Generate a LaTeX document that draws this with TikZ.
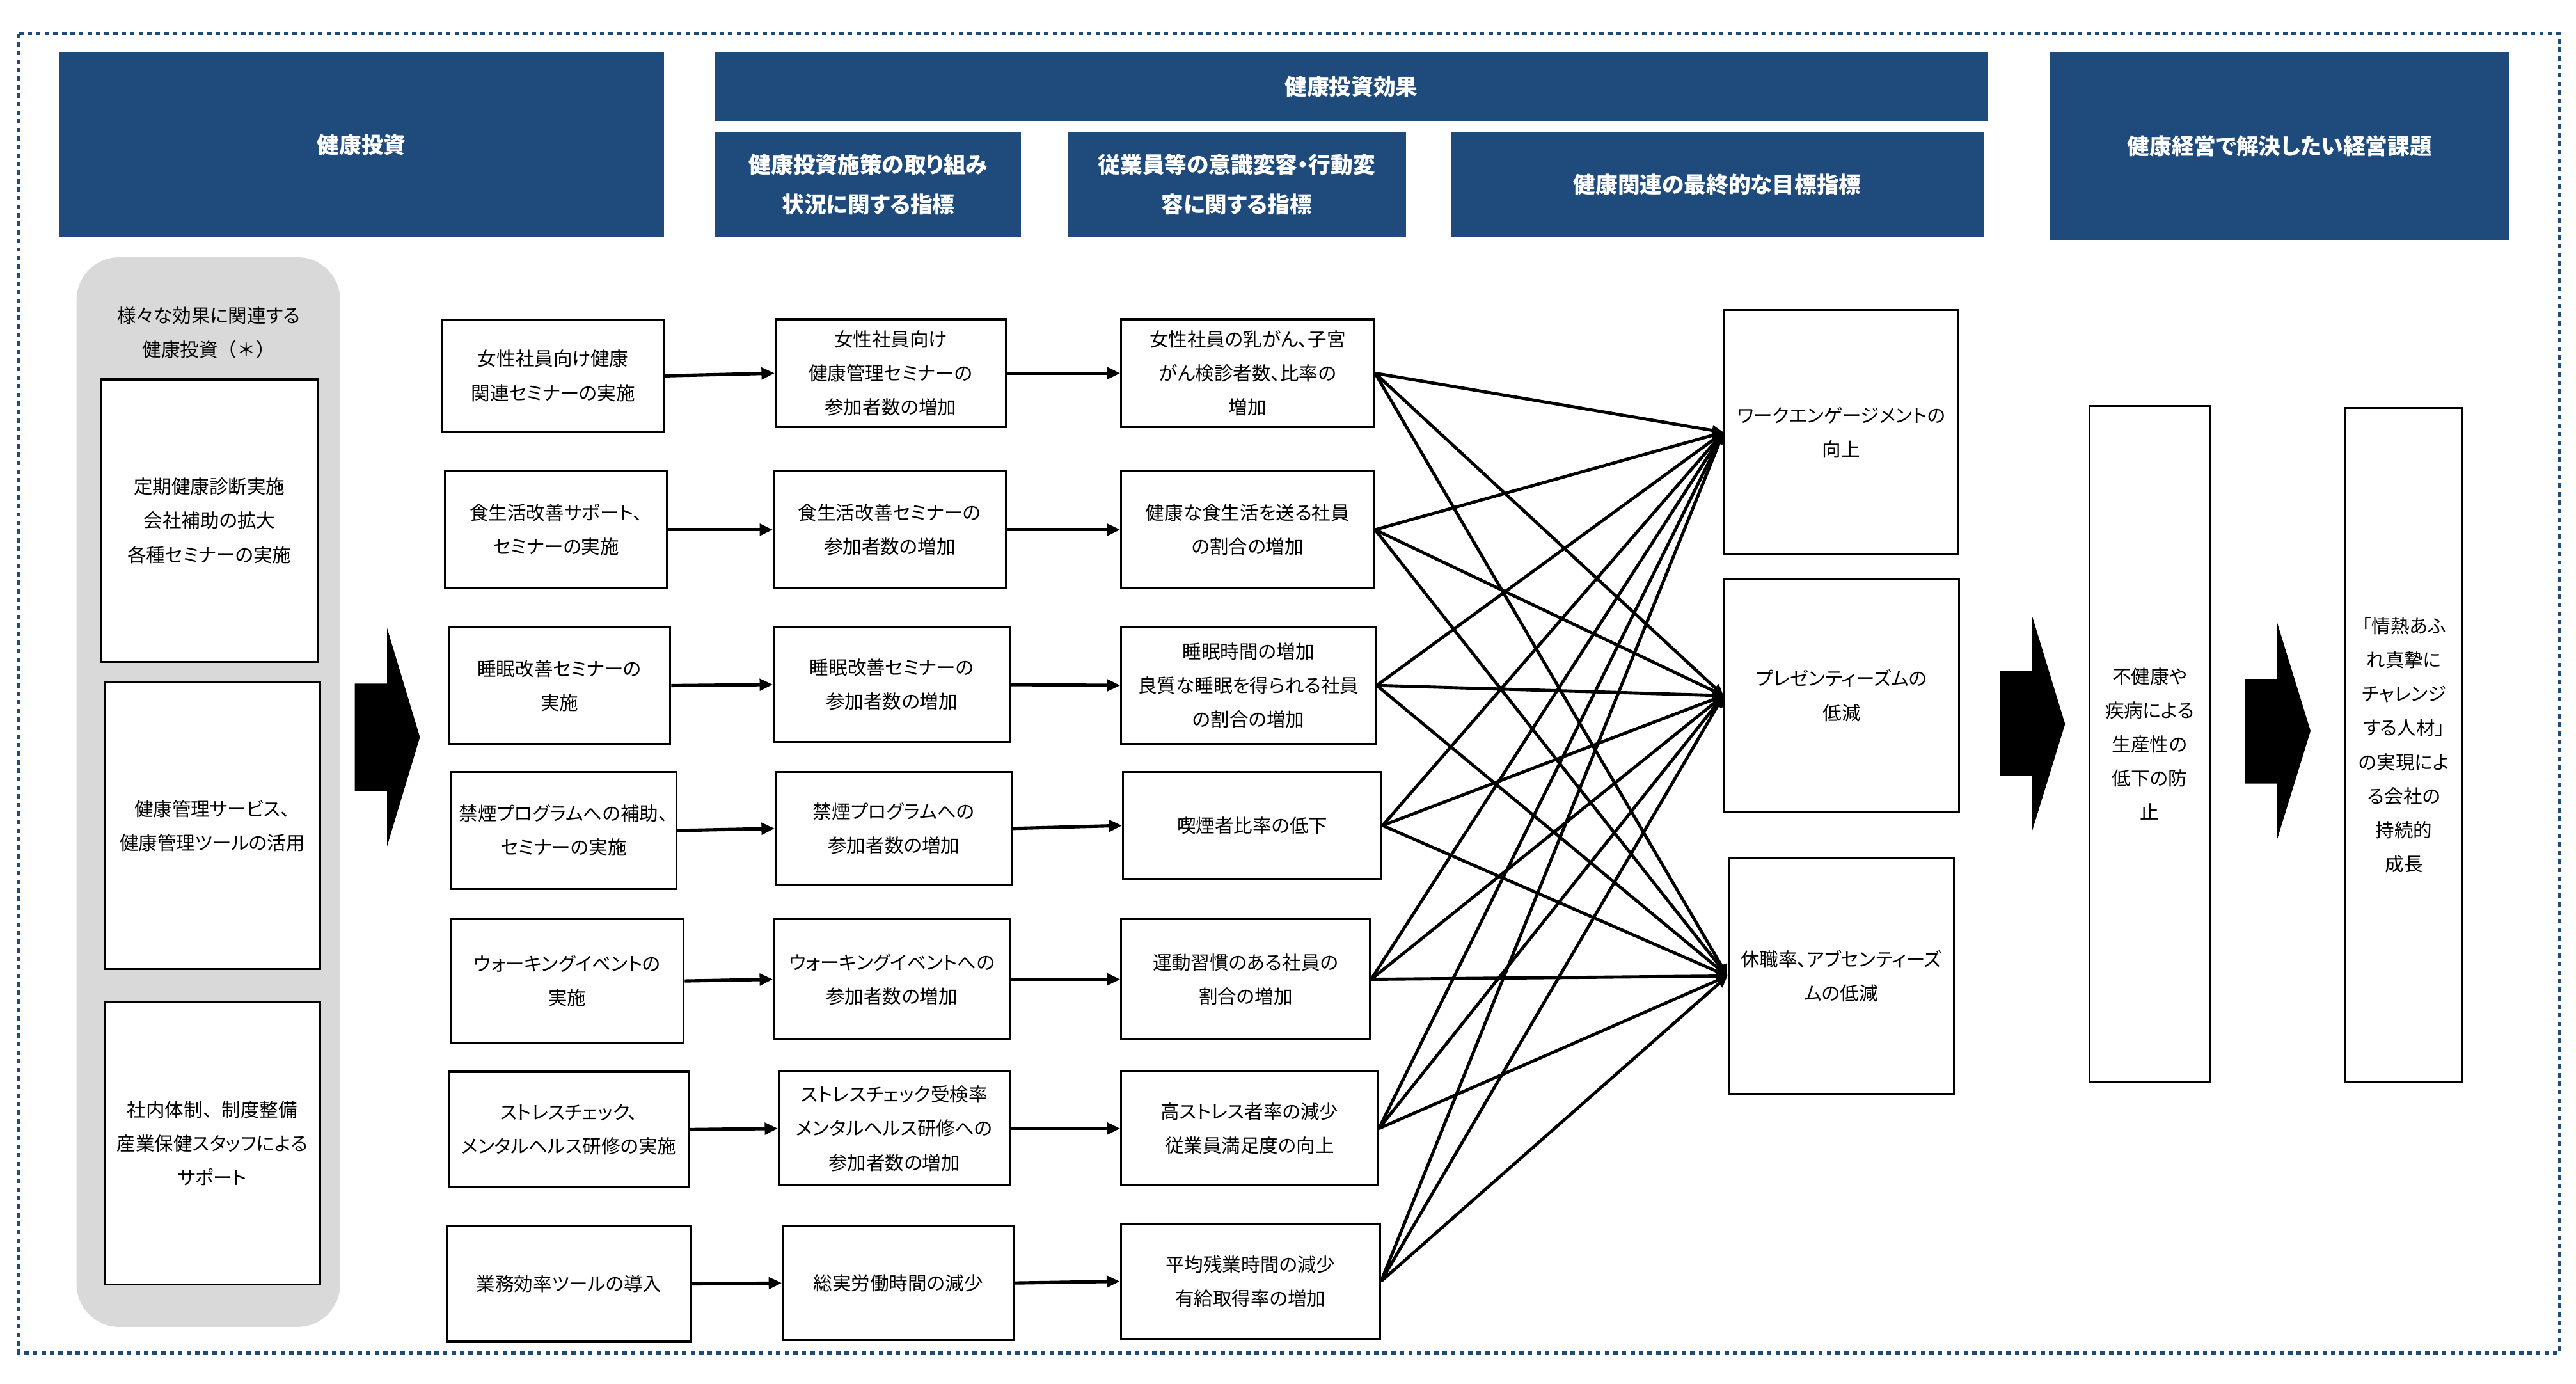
\documentclass[tikz,border=0pt]{standalone}
\usepackage{fontspec}
\setmainfont{Noto Sans CJK JP}[RawFeature=+palt]
\newfontfamily\fullwidth{Noto Sans CJK JP}
\usetikzlibrary{arrows.meta}
\definecolor{navy}{HTML}{1F4A7C}
\definecolor{panelgray}{HTML}{D9D9D9}
\newcommand\mybox[6]{\node[box, minimum width=#4pt, minimum height=#5pt] (#1) at (#2,#3) {#6};}
\newcommand\myhdr[6]{\node[hdr, minimum width=#4pt, minimum height=#5pt] (#1) at (#2,#3) {#6};}
\begin{document}
\begin{tikzpicture}[x=1pt,y=-1pt,
  box/.style={draw=black, line width=1.2pt, fill=white, inner sep=0pt, align=center, font=\fontsize{11.5}{20.7}\selectfont},
  hdr/.style={fill=navy, text=white, inner sep=0pt, align=center, font=\fontsize{13.5}{24}\selectfont\bfseries},
  conn/.style={line width=2pt, -{Triangle[length=8pt,width=7pt]}},
  fan/.style={line width=1.9pt, -{Triangle[length=7pt,width=6pt]}},
  bigarrow/.style={fill=black}]
\useasboundingbox (0,0) rectangle (1568,842.2);
% outer dotted frame
\draw[navy, line width=1.8pt, dash pattern=on 2.7pt off 2.5pt] (11.5,20.5) rectangle (1558,823.2);
% headers
\myhdr{h1}{220}{88}{368}{112}{健康投資}
\myhdr{h2}{822.5}{52.75}{775}{41.5}{健康投資効果}
\myhdr{h3}{528.5}{112.3}{186.2}{63.4}{健康投資施策の取り組み\\状況に関する指標}
\myhdr{h4}{752.8}{112.3}{206}{63.4}{従業員等の意識変容・行動変\\容に関する指標}
\myhdr{h5}{1045.3}{112.3}{324.6}{63.4}{健康関連の最終的な目標指標}
\myhdr{h6}{1387.65}{88.85}{279.3}{114.1}{健康経営で解決したい経営課題}
% gray panel
\node[fill=panelgray, rounded corners=26pt, minimum width=160.4pt, minimum height=651pt, inner sep=0pt] (panel) at (126.8,482) {};
\node[align=center, inner sep=0pt, font=\fontsize{11.5}{20.7}\selectfont] (ptitle) at (127,202.5) {様々な効果に関連する\\健康投資{\fullwidth （＊）}};
\mybox{pa}{127.45}{316.85}{131.7}{171.9}{定期健康診断実施\\会社補助の拡大\\各種セミナーの実施}
\mybox{pb}{129.2}{502.45}{131.4}{174.3}{健康管理サービス、\\健康管理ツールの活用}
\mybox{pc}{129.2}{695.65}{131.4}{172.3}{社内体制{\fullwidth 、}制度整備\\産業保健スタッフによる\\サポート}
% big arrows
\fill[bigarrow] (216,416) -- (235.6,416) -- (235.6,382.2) -- (255.6,448.6) -- (235.6,515) -- (235.6,481.2) -- (216,481.2) -- cycle;
\fill[bigarrow] (1217.3,408.3) -- (1237.1,408.3) -- (1237.1,375.4) -- (1257,440.6) -- (1237.1,505.2) -- (1237.1,472.2) -- (1217.3,472.2) -- cycle;
\fill[bigarrow] (1366.4,413.2) -- (1386.2,413.2) -- (1386.2,379.3) -- (1406.4,444.8) -- (1386.2,510.4) -- (1386.2,476.8) -- (1366.4,476.8) -- cycle;
% column 2
\mybox{a1}{336.7}{228.7}{135}{68.4}{女性社員向け健康\\関連セミナーの実施}
\mybox{a2}{338.5}{322.35}{135.2}{71.5}{食生活改善サポート、\\セミナーの実施}
\mybox{a3}{340.55}{417.2}{134.9}{70.8}{睡眠改善セミナーの\\実施}
\mybox{a4}{343}{505.4}{137.2}{71}{禁煙プログラムへの補助、\\セミナーの実施}
\mybox{a5}{345.3}{596.95}{141.8}{75.1}{ウォーキングイベントの\\実施}
\mybox{a6}{346.15}{687.4}{146.1}{70.4}{ストレスチェック、\\メンタルヘルス研修の実施}
\mybox{a7}{346.4}{781.3}{148.4}{70.4}{業務効率ツールの導入}
% column 3
\mybox{b1}{542.1}{227.1}{140}{65.6}{女性社員向け\\健康管理セミナーの\\参加者数の増加}
\mybox{b2}{541.55}{322.35}{141.1}{71.3}{食生活改善セミナーの\\参加者数の増加}
\mybox{b3}{542.85}{416.6}{143.7}{70}{睡眠改善セミナーの\\参加者数の増加}
\mybox{b4}{544.05}{504.15}{143.9}{68.9}{禁煙プログラムへの\\参加者数の増加}
\mybox{b5}{542.85}{595.95}{143.7}{73.1}{ウォーキングイベントへの\\参加者数の増加}
\mybox{b6}{544.4}{686.75}{140.6}{69.3}{ストレスチェック受検率\\メンタルヘルス研修への\\参加者数の増加}
\mybox{b7}{546.75}{780.75}{140.5}{69.5}{総実労働時間の減少}
% column 4
\mybox{c1}{759.45}{227.1}{153.9}{65.6}{女性社員の乳がん、子宮\\がん検診者数、比率の\\増加}
\mybox{c2}{759.45}{322.35}{153.9}{71.3}{健康な食生活を送る社員\\の割合の増加}
\mybox{c3}{759.95}{417.1}{154.9}{71}{睡眠時間の増加\\良質な睡眠を得られる社員\\の割合の増加}
\mybox{c4}{762.3}{502.35}{157.4}{65.3}{喫煙者比率の低下}
\mybox{c5}{758.25}{595.95}{151.5}{73.1}{運動習慣のある社員の\\割合の増加}
\mybox{c6}{760.6}{686.75}{156.2}{69.3}{高ストレス者率の減少\\従業員満足度の向上}
\mybox{c7}{761.1}{779.75}{157.8}{69.7}{平均残業時間の減少\\有給取得率の増加}
% column 5
\mybox{we}{1120.65}{263.05}{141.9}{148.5}{ワークエンゲージメントの\\向上}
\mybox{pr}{1121}{423.3}{142.6}{141.8}{プレゼンティーズムの\\低減}
\mybox{ab}{1120.7}{593.95}{137.2}{143.3}{休職率、アブセンティーズ\\ムの低減}
% right boxes
\mybox{r1}{1308.45}{452.7}{72.9}{411.6}{不健康や\\疾病による\\生産性の\\低下の防\\止}
\mybox{r2}{1463.3}{453.35}{71.4}{410.3}{「情熱あふ\\れ真摯に\\チャレンジ\\する人材」\\の実現によ\\る会社の\\持続的\\成長}
% connectors
\foreach \i in {1,...,7}{
  \draw[conn] (a\i.east) -- (b\i.west);
  \draw[conn] (b\i.east) -- (c\i.west);
  \foreach \t in {we,pr,ab}{
    \draw[fan] (c\i.east) -- (\t.west);
  }
}
\end{tikzpicture}
\end{document}
